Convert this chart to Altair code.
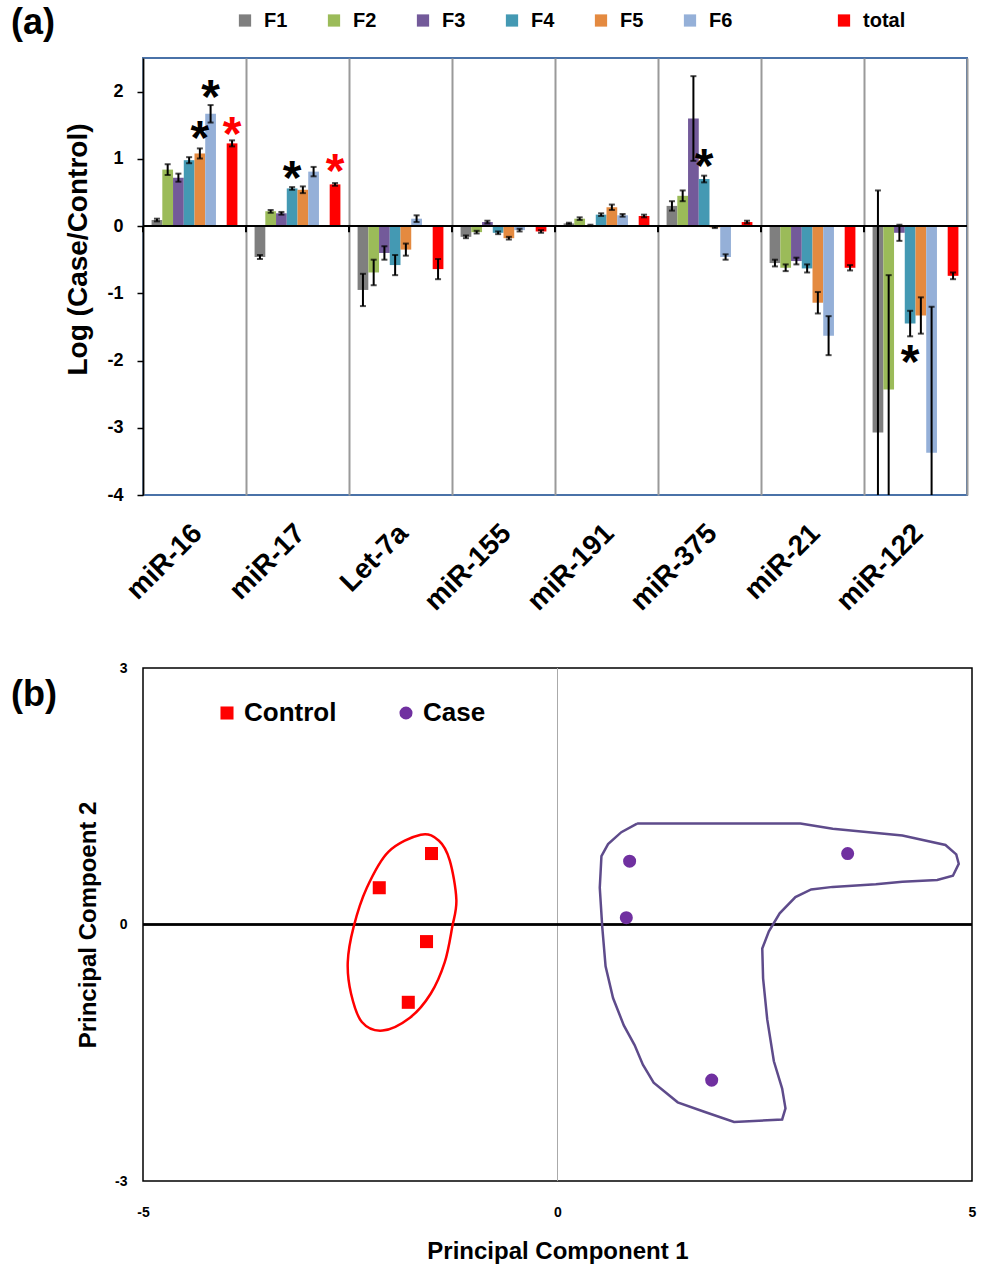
import altair as alt
import pandas as pd

FONT = "Liberation Sans"

# ---------------- Panel (a) data ----------------
categories = ["miR-16", "miR-17", "Let-7a", "miR-155", "miR-191", "miR-375", "miR-21", "miR-122"]
series_names = ["F1", "F2", "F3", "F4", "F5", "F6", "total"]
slot_domain = ["F1", "F2", "F3", "F4", "F5", "F6", "", "total"]
slot_colors = ["#7F7F7F", "#9BBB59", "#735A9A", "#4499B3", "#E48A40", "#95B0D8", "#FFFFFF", "#FF0000"]

f1 = [0.09, -0.46, -0.95, -0.16, 0.04, 0.30, -0.55, -3.07]
f2 = [0.84, 0.22, -0.69, -0.09, 0.11, 0.45, -0.62, -2.43]
f3 = [0.72, 0.19, -0.40, 0.06, 0.01, 1.60, -0.52, -0.10]
f4 = [0.98, 0.56, -0.58, -0.10, 0.17, 0.70, -0.63, -1.45]
f5 = [1.08, 0.54, -0.35, -0.18, 0.28, -0.02, -1.14, -1.33]
f6 = [1.67, 0.81, 0.11, -0.06, 0.16, -0.46, -1.63, -3.37]
total = [1.23, 0.62, -0.64, -0.08, 0.15, 0.06, -0.62, -0.74]

f1_err = [0.02, 0.03, 0.24, 0.02, 0.01, 0.07, 0.05, 3.60]
f2_err = [0.08, 0.02, 0.19, 0.02, 0.02, 0.08, 0.05, 1.70]
f3_err = [0.06, 0.02, 0.10, 0.02, 0.01, 0.63, 0.05, 0.12]
f4_err = [0.045, 0.02, 0.15, 0.02, 0.02, 0.05, 0.06, 0.19]
f5_err = [0.075, 0.05, 0.09, 0.02, 0.04, 0.01, 0.16, 0.27]
f6_err = [0.13, 0.07, 0.05, 0.02, 0.02, 0.04, 0.29, 2.17]
total_err = [0.045, 0.02, 0.15, 0.02, 0.02, 0.02, 0.04, 0.05]

star_cat = ["miR-16", "miR-16", "miR-16", "miR-17", "miR-17", "miR-375", "miR-122"]
star_series = ["F5", "F6", "total", "F4", "total", "F4", "F4"]
star_y = [1.42, 2.03, 1.47, 0.82, 0.92, 1.00, -1.92]
star_color = ["black", "black", "red", "black", "red", "black", "black"]

# ---------------- Panel (b) data ----------------
ctrl_pc1 = [-1.52, -2.15, -1.58, -1.80]
ctrl_pc2 = [0.83, 0.43, -0.20, -0.91]
case_pc1 = [0.87, 0.83, 3.50, 1.86]
case_pc2 = [0.74, 0.08, 0.83, -1.82]

ellipse_pc1 = [-1.65, -1.43, -1.30, -1.22, -1.27, -1.36, -1.53, -1.78, -2.11, -2.36, -2.49, -2.53, -2.46, -2.30, -2.04]
ellipse_pc2 = [1.05, 0.98, 0.75, 0.29, -0.03, -0.44, -0.81, -1.09, -1.24, -1.14, -0.81, -0.44, -0.03, 0.43, 0.85]

blob_pc1 = [0.96, 1.38, 2.93, 3.32, 4.16, 4.68, 4.81, 4.84, 4.77, 4.58, 4.16, 3.84, 3.32, 3.06, 2.87,
            2.68, 2.55, 2.47, 2.48, 2.53, 2.61, 2.71, 2.75, 2.71, 2.13, 1.77, 1.45, 1.16, 1.03, 0.93,
            0.80, 0.67, 0.58, 0.54, 0.51, 0.53, 0.61, 0.77, 0.96]
blob_pc2 = [1.18, 1.18, 1.18, 1.12, 1.04, 0.93, 0.82, 0.71, 0.57, 0.52, 0.50, 0.47, 0.44, 0.41, 0.32,
            0.13, -0.08, -0.28, -0.63, -1.11, -1.60, -1.92, -2.15, -2.28, -2.31, -2.19, -2.08, -1.85, -1.64, -1.41,
            -1.18, -0.86, -0.49, -0.03, 0.43, 0.80, 0.94, 1.08, 1.18]

# ---------------- build tables ----------------
vals = [f1, f2, f3, f4, f5, f6, total]
errs = [f1_err, f2_err, f3_err, f4_err, f5_err, f6_err, total_err]
rows = []
for s, v, e in zip(series_names, vals, errs):
    for c, vv, ee in zip(categories, v, e):
        rows.append({"cat": c, "series": s, "val": vv, "lo": vv - ee, "hi": vv + ee})
bars_df = pd.DataFrame(rows)

stars_df = pd.DataFrame({"cat": star_cat, "series": star_series, "val": star_y, "col": star_color})
bound_df = pd.DataFrame({"cat": categories})
label_a_df = pd.DataFrame({"t": ["(a)"]})
label_b_df = pd.DataFrame({"t": ["(b)"]})

# ---------------- Panel (a) chart ----------------
x_scale_a = alt.Scale(domain=categories, paddingInner=0, paddingOuter=0)
x_axis_a = alt.Axis(title=None, labelAngle=315, labelFontSize=28, labelFontWeight="bold",
                    labelColor="black", labelPadding=24, labelOffset=-7, ticks=False, domain=False,
                    grid=True, gridColor="#9A9A9A", gridWidth=2, tickBand="extent", labelFont=FONT)
x_a = alt.X("cat:N", sort=categories, scale=x_scale_a, axis=x_axis_a)
xoff = alt.XOffset("series:N", scale=alt.Scale(domain=slot_domain, paddingInner=0, paddingOuter=0.8))
y_scale_a = alt.Scale(domain=[-4, 2.5], nice=False, zero=False)
y_axis_a = alt.Axis(title="Log (Case/Control)", values=[-4, -3, -2, -1, 0, 1, 2], labelExpr="datum.value",
                    labelFontSize=18, labelFontWeight="bold", labelColor="black", tickSize=6,
                    tickColor="black", tickWidth=1.5, domainColor="black", domainWidth=1.5, grid=False,
                    titleFontSize=28, titleFontWeight="bold", titleColor="black", titlePadding=14,
                    titleY=191, labelPadding=14, labelFont=FONT, titleFont=FONT)


def ya(field):
    return alt.Y(field, type="quantitative", scale=y_scale_a, axis=y_axis_a)


legend_a = alt.Legend(title=None, orient="none", legendX=92, legendY=-47.5, direction="horizontal",
                      symbolType="square", symbolSize=150, symbolStrokeWidth=0, labelFontSize=20,
                      labelFontWeight="bold", labelColor="black", columnPadding=36, labelOffset=9,
                      labelFont=FONT)

bars = alt.Chart(bars_df).mark_bar().encode(
    x=x_a, xOffset=xoff, y=ya("val"),
    color=alt.Color("series:N", scale=alt.Scale(domain=slot_domain, range=slot_colors), legend=legend_a),
)
err_rule = alt.Chart(bars_df).mark_rule(color="black", strokeWidth=2, clip=True).encode(
    x=x_a, xOffset=xoff, y=ya("lo"), y2="hi")
cap_lo = alt.Chart(bars_df).mark_tick(color="black", size=6, thickness=2, clip=True).encode(
    x=x_a, xOffset=xoff, y=ya("lo"))
cap_hi = alt.Chart(bars_df).mark_tick(color="black", size=6, thickness=2, clip=True).encode(
    x=x_a, xOffset=xoff, y=ya("hi"))
zero_line = alt.Chart(bound_df).mark_rule(color="black", strokeWidth=2).encode(y=alt.datum(0))
bound_ticks = alt.Chart(bound_df).mark_rule(color="black", strokeWidth=2).encode(
    x=alt.X("cat:N", sort=categories, scale=x_scale_a, axis=x_axis_a, bandPosition=0),
    y=alt.datum(0), y2=alt.datum(-0.09))
stars = alt.Chart(stars_df).mark_text(fontSize=48, fontWeight="bold", font=FONT, baseline="alphabetic",
                                      dy=23).encode(
    x=x_a, xOffset=xoff, y=ya("val"), text=alt.value("*"), color=alt.Color("col:N", scale=None))
tag_a = alt.Chart(label_a_df).mark_text(fontSize=36, fontWeight="bold", font=FONT, align="left",
                                        baseline="middle", color="black").encode(
    x=alt.value(-132), y=alt.value(-35), text="t:N")

panel_a = alt.layer(bars, zero_line, bound_ticks, err_rule, cap_lo, cap_hi, stars, tag_a).properties(
    width=824, height=437,
    view=alt.ViewBackground(stroke="#4A72A8", strokeWidth=2),
)

# ---------------- Panel (b) chart ----------------
pts_df = pd.DataFrame({
    "pc1": ctrl_pc1 + case_pc1,
    "pc2": ctrl_pc2 + case_pc2,
    "group": ["Control"] * len(ctrl_pc1) + ["Case"] * len(case_pc1),
})
ell_df = pd.DataFrame({"pc1": ellipse_pc1, "pc2": ellipse_pc2, "o": list(range(len(ellipse_pc1)))})
blob_df = pd.DataFrame({"pc1": blob_pc1, "pc2": blob_pc2, "o": list(range(len(blob_pc1)))})

x_scale_b = alt.Scale(domain=[-5, 5], nice=False, zero=False)
y_scale_b = alt.Scale(domain=[-3, 3], nice=False, zero=False)
x_axis_b = alt.Axis(title="Principal Component 1", values=[-5, 0, 5], labelExpr="datum.value", ticks=False,
                    domain=False, grid=False, labelFontSize=14, labelFontWeight="bold", labelColor="black",
                    labelPadding=24, labelFlush=False, titleFontSize=24, titleFontWeight="bold",
                    titleColor="black", titlePadding=20, labelFont=FONT, titleFont=FONT)
y_axis_b = alt.Axis(title="Principal Compoent 2", values=[-3, 0, 3], labelExpr="datum.value", ticks=False,
                    domain=False, grid=False, labelFontSize=14, labelFontWeight="bold", labelColor="black",
                    labelPadding=16, labelFlush=False, titleFontSize=24, titleFontWeight="bold",
                    titleColor="black", titlePadding=14, labelFont=FONT, titleFont=FONT)
x_b = alt.X("pc1:Q", scale=x_scale_b, axis=x_axis_b)
y_b = alt.Y("pc2:Q", scale=y_scale_b, axis=y_axis_b)

hline = alt.Chart(pts_df).mark_rule(color="black", strokeWidth=1.5).encode(y=alt.datum(0))
vline = alt.Chart(pts_df).mark_rule(color="#AAAAAA", strokeWidth=1).encode(x=alt.datum(0))
ellipse = alt.Chart(ell_df).mark_line(color="#FF0000", strokeWidth=2.5, interpolate="cardinal-closed").encode(
    x=x_b, y=y_b, order="o:Q")
blob = alt.Chart(blob_df).mark_line(color="#5E4B8B", strokeWidth=2.5, interpolate="linear").encode(
    x=x_b, y=y_b, order="o:Q")
legend_b = alt.Legend(title=None, orient="none", legendX=71, legendY=32, direction="horizontal",
                      symbolSize=170, symbolStrokeWidth=0, labelFontSize=26, labelFontWeight="bold",
                      labelColor="black", columnPadding=56, labelOffset=4, labelFont=FONT)
points = alt.Chart(pts_df).mark_point(filled=True, size=170, opacity=1).encode(
    x=x_b, y=y_b,
    color=alt.Color("group:N", scale=alt.Scale(domain=["Control", "Case"], range=["#FF0000", "#7030A0"]),
                    legend=legend_b),
    shape=alt.Shape("group:N", scale=alt.Scale(domain=["Control", "Case"], range=["square", "circle"]),
                    legend=legend_b),
)
tag_b = alt.Chart(label_b_df).mark_text(fontSize=36, fontWeight="bold", font=FONT, align="left",
                                        baseline="middle", color="black").encode(
    x=alt.value(-132), y=alt.value(27), text="t:N")

panel_b = alt.layer(vline, hline, ellipse, blob, points, tag_b).properties(
    width=829, height=513,
    view=alt.ViewBackground(stroke="black", strokeWidth=1.5),
)

chart = alt.vconcat(panel_a, panel_b, spacing=173, bounds="flush").resolve_scale(
    color="independent", shape="independent", x="independent", y="independent"
).properties(
    padding={"left": 10, "top": 4, "right": 5, "bottom": 5},
    background="white",
).configure_axis(labelFont=FONT, titleFont=FONT)

chart.save("out.html", embed_options={"renderer": "svg", "actions": False})
